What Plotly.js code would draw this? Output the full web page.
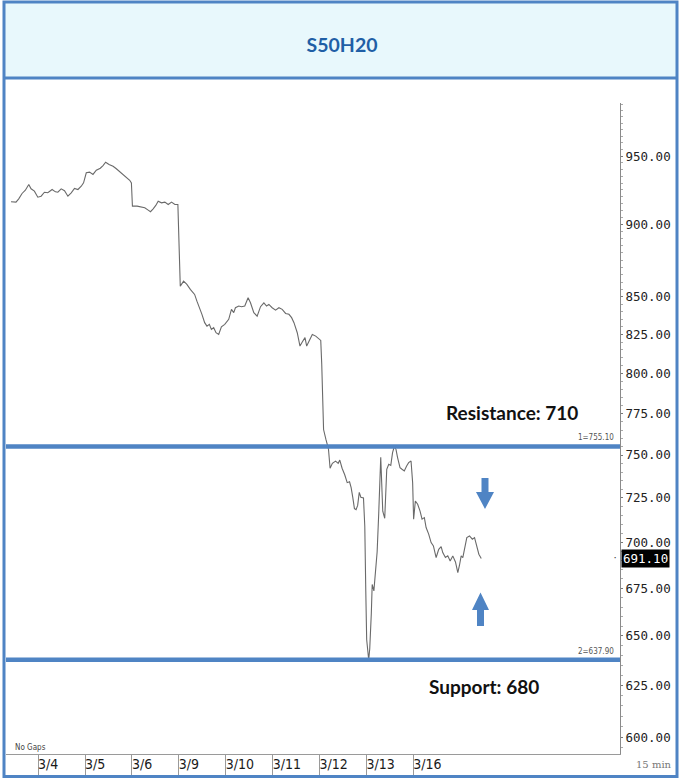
<!DOCTYPE html>
<html><head><meta charset="utf-8">
<script src="https://cdn.plot.ly/plotly-3.0.1.min.js"></script>
<style>html,body{margin:0;padding:0;background:#fff}#chart{width:680px;height:778px}</style>
</head><body><div id="chart"></div>
<script>
// ---- data (x = session position in trading days, 1 = start of 3/4) ----
const dayPos = [0.422,0.529,0.587,0.658,0.728,0.801,0.850,0.921,0.994,1.064,1.135,1.207,1.299,1.370,1.421,1.492,1.563,1.635,1.706,1.776,1.849,1.920,1.969,2.027,2.097,2.170,2.241,2.326,2.384,2.440,2.512,2.598,2.668,2.754,2.825,2.897,2.953,2.989,3.011,3.111,3.203,3.274,3.347,3.396,3.453,3.509,3.560,3.631,3.702,3.774,3.845,3.916,3.980,4.010,4.031,4.102,4.172,4.245,4.337,4.386,4.459,4.493,4.551,4.600,4.651,4.694,4.743,4.793,4.850,4.908,4.979,5.064,5.122,5.171,5.207,5.278,5.336,5.406,5.477,5.528,5.599,5.670,5.742,5.813,5.871,5.920,5.990,6.063,6.134,6.204,6.277,6.348,6.405,6.455,6.525,6.583,6.632,6.690,6.726,6.775,6.846,6.919,6.989,7.026,7.047,7.066,7.086,7.135,7.190,7.225,7.274,7.342,7.398,7.432,7.481,7.537,7.590,7.640,7.674,7.708,7.744,7.779,7.813,7.847,7.881,7.937,7.965,7.986,8.005,8.048,8.070,8.104,8.123,8.159,8.194,8.228,8.262,8.305,8.348,8.390,8.433,8.476,8.519,8.557,8.594,8.630,8.664,8.716,8.758,8.807,8.857,8.900,8.951,8.985,9.006,9.043,9.092,9.143,9.186,9.235,9.272,9.327,9.379,9.428,9.486,9.541,9.593,9.627,9.684,9.734,9.785,9.841,9.898,9.948,9.984,10.020,10.055,10.091,10.140,10.198,10.258,10.305,10.353,10.397,10.448];
const price = [916.4,916.1,918.5,922.4,924.8,929.0,925.8,924.1,919.7,920.4,923.3,922.9,925.3,923.6,923.3,925.8,924.4,920.4,922.9,926.1,925.3,927.7,930.2,937.6,938.1,936.4,939.5,941.0,943.0,945.5,943.8,942.5,940.6,938.1,936.4,933.9,932.1,930.2,913.2,913.2,912.7,912.0,910.3,909.2,911.3,913.7,916.8,915.6,916.1,914.4,916.1,914.4,914.4,877.8,857.2,860.6,858.4,855.0,851.6,847.1,841.6,838.3,832.8,830.5,831.7,828.4,829.5,826.2,825.1,830.1,831.7,835.0,841.6,839.4,842.7,843.8,843.4,843.8,849.4,846.0,839.4,837.1,843.4,846.0,843.8,844.9,842.7,841.1,842.7,841.6,838.9,838.3,836.1,832.8,826.2,817.5,820.1,823.0,817.5,820.7,825.1,824.0,822.3,821.2,805.8,775.2,765.3,759.5,753.7,742.2,745.1,746.4,745.1,747.0,742.2,738.4,733.8,734.3,730.9,725.4,718.9,718.3,720.7,728.2,725.4,725.0,708.9,673.6,648.2,637.9,643.3,661.6,677.0,673.6,683.1,694.6,716.1,748.7,717.4,713.4,741.6,744.5,743.9,751.4,755.1,753.4,748.5,742.6,741.6,740.6,743.5,745.5,746.5,733.8,712.9,723.2,721.4,717.5,712.9,713.8,708.2,704.5,699.8,698.0,691.6,696.1,697.6,694.3,691.6,692.5,689.7,692.5,689.2,683.4,687.4,692.5,691.6,697.1,702.6,703.5,701.7,702.6,698.0,693.4,691.1];

const dayStarts = [1,2,3,4,5,6,7,8,9];
const dayLabels = ["3/4","3/5","3/6","3/9","3/10","3/11","3/12","3/13","3/16"];
const yTickVals = [600,625,650,675,700,725,750,775,800,825,850,900,950];
const yTickText = ["600.00","625.00","650.00","675.00","700.00","725.00","750.00","775.00","800.00","825.00","850.00","900.00","950.00"];
const resistanceLevel = 755.10;
const supportLevel = 637.90;
const lastPrice = 691.10;
const titleText = "S50H20";
const resistanceText = "Resistance: 710";
const supportText = "Support: 680";

// ---- layout helpers (pixel -> paper) ----
const W = 680, H = 778, ML = 6, MR = 60, MT = 103, MB = 24;
const PW = W - ML - MR, PH = H - MT - MB;
const fx = px => (px - ML) / PW;
const fy = py => (H - MB - py) / PH;
const path = pts => 'M' + pts.map(p => fx(p[0]).toFixed(5) + ',' + fy(p[1]).toFixed(5)).join(' L') + ' Z';

const xRange = [0.3155, 13.406];
const yRange = [2.77236, 2.99600];

const minorVals = [];
for (let v = 595; v <= 990; v += 5) if (!yTickVals.includes(v)) minorVals.push(v);

const BLUE = '#4f84c4';
const mono = 'DejaVu Sans Mono, monospace';
const boldFont = 'Lato, Open Sans, sans-serif';

const traces = [
  {x: dayPos, y: price, type: 'scatter', mode: 'lines', line: {color: '#6a6a6a', width: 1.1}, hoverinfo: 'skip'},
  {x: xRange, y: [resistanceLevel, resistanceLevel], type: 'scatter', mode: 'lines', line: {color: BLUE, width: 4.5}, cliponaxis: false},
  {x: xRange, y: [supportLevel, supportLevel], type: 'scatter', mode: 'lines', line: {color: BLUE, width: 4.5}, cliponaxis: false},
  {x: [dayStarts[0]], y: [lastPrice], xaxis: 'x2', type: 'scatter', mode: 'markers', marker: {opacity: 0}, hoverinfo: 'skip'}
];

const layout = {
  width: W, height: H,
  margin: {l: ML, r: MR, t: MT, b: MB, pad: 0},
  paper_bgcolor: '#ffffff', plot_bgcolor: '#ffffff',
  showlegend: false,
  title: {text: '<b>' + titleText + '</b>', x: 0.503, xanchor: 'center', xref: 'container',
          y: 1 - 45 / H, yanchor: 'middle', yref: 'container',
          font: {family: boldFont, size: 19.5, color: '#1f5fa6'}},
  xaxis: {range: xRange, tickmode: 'array', tickvals: dayStarts, showticklabels: false,
          ticks: 'outside', ticklen: 21, tickwidth: 1, tickcolor: '#9a9a9a',
          showline: true, linecolor: '#9a9a9a', linewidth: 1, showgrid: false, zeroline: false, fixedrange: true},
  xaxis2: {range: xRange, overlaying: 'x', anchor: 'y', side: 'bottom', tickmode: 'array',
           tickvals: dayStarts, ticktext: dayLabels, ticks: '', ticklabelposition: 'outside right',
           showline: false, showgrid: false, zeroline: false,
           tickfont: {family: 'DejaVu Sans Condensed, Liberation Sans Narrow, DejaVu Sans, sans-serif', size: 14, color: '#1a1a1a'}},
  yaxis: {type: 'log', side: 'right', range: yRange, tickmode: 'array', tickvals: yTickVals, ticktext: yTickText,
          ticks: 'outside', ticklen: 2, tickwidth: 1, tickcolor: '#777',
          minor: {tickmode: 'array', tickvals: minorVals, ticks: 'outside', ticklen: 2, tickcolor: '#aaa', tickwidth: 1},
          showline: true, linecolor: '#8a8a8a', linewidth: 1, showgrid: false, zeroline: false,
          tickfont: {family: mono, size: 12.5, color: '#222'}, fixedrange: true},
  shapes: [
    {type: 'rect', xref: 'paper', yref: 'paper', x0: fx(3), x1: fx(678), y0: fy(78), y1: fy(2),
     fillcolor: '#e8f8fc', line: {width: 0}, layer: 'below'},
    {type: 'line', xref: 'paper', yref: 'paper', x0: fx(3), x1: fx(678), y0: fy(78), y1: fy(78),
     line: {color: BLUE, width: 3}},
    {type: 'rect', xref: 'paper', yref: 'paper', x0: fx(4), x1: fx(677), y0: fy(776.5), y1: fy(2),
     line: {color: BLUE, width: 3}, fillcolor: 'rgba(0,0,0,0)'},
    {type: 'path', xref: 'paper', yref: 'paper', fillcolor: BLUE, line: {width: 0},
     path: path([[481.5,478],[488.5,478],[488.5,492],[494,492],[485,509],[476,492],[481.5,492]])},
    {type: 'path', xref: 'paper', yref: 'paper', fillcolor: BLUE, line: {width: 0},
     path: path([[480.5,592.5],[489,610],[484,610],[484,626],[477,626],[477,610],[472,610]])}
  ],
  annotations: [
    {xref: 'paper', yref: 'paper', x: fx(512), y: fy(412), text: '<b>' + resistanceText + '</b>', showarrow: false,
     xanchor: 'center', yanchor: 'middle', font: {family: boldFont, size: 19, color: '#111'}},
    {xref: 'paper', yref: 'paper', x: fx(484), y: fy(686), text: '<b>' + supportText + '</b>', showarrow: false,
     xanchor: 'center', yanchor: 'middle', font: {family: boldFont, size: 19, color: '#111'}},
    {xref: 'paper', yref: 'y', x: fx(616), y: Math.log10(resistanceLevel), yshift: 2,
     text: '1=' + resistanceLevel.toFixed(2), showarrow: false, xanchor: 'right', yanchor: 'bottom',
     font: {family: 'Liberation Sans Narrow, DejaVu Sans Condensed, sans-serif', size: 8, color: '#555'}},
    {xref: 'paper', yref: 'y', x: fx(616), y: Math.log10(supportLevel), yshift: 2,
     text: '2=' + supportLevel.toFixed(2), showarrow: false, xanchor: 'right', yanchor: 'bottom',
     font: {family: 'Liberation Sans Narrow, DejaVu Sans Condensed, sans-serif', size: 8, color: '#555'}},
    {xref: 'paper', yref: 'y', x: 1, xshift: 1, y: Math.log10(lastPrice), text: lastPrice.toFixed(2),
     showarrow: false, xanchor: 'left', yanchor: 'middle', bgcolor: '#000', borderpad: 1,
     font: {family: mono, size: 12.5, color: '#fff'}},
    {xref: 'paper', yref: 'y', x: 1, xshift: -2, y: Math.log10(lastPrice), text: '•',
     showarrow: false, xanchor: 'right', yanchor: 'middle', font: {size: 6, color: '#444'}},
    {xref: 'paper', yref: 'paper', x: fx(13), y: fy(747), text: 'No Gaps', showarrow: false,
     xanchor: 'left', yanchor: 'middle', font: {family: 'Liberation Sans Narrow, DejaVu Sans Condensed, sans-serif', size: 8, color: '#444'}},
    {xref: 'paper', yref: 'paper', x: fx(654), y: fy(764), text: '15 min', showarrow: false,
     xanchor: 'center', yanchor: 'middle', font: {family: 'DejaVu Serif, Liberation Serif, serif', size: 10, color: '#777'}}
  ]
};

Plotly.newPlot('chart', traces, layout, {displayModeBar: false, staticPlot: true});
</script></body></html>
